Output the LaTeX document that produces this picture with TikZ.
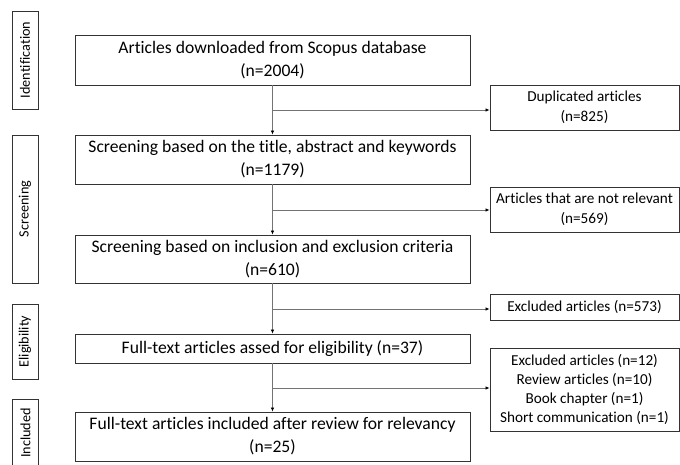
\documentclass[tikz,border=0pt]{standalone}
\usepackage{fontspec}
\setmainfont[Ligatures=NoCommon]{Carlito}
\usetikzlibrary{arrows.meta}
\begin{document}
\begin{tikzpicture}[x=1pt,y=-1pt,
  mainbox/.style={draw=black!80,line width=0.9pt,minimum width=395pt,inner sep=0pt,align=center,font=\fontsize{17.6}{23}\selectfont},
  sidebox/.style={draw=black!80,line width=0.9pt,minimum width=189pt,inner sep=0pt,align=center,font=\fontsize{15.2}{19.5}\selectfont},
  phase/.style={draw=black!80,line width=0.9pt,rotate=90,minimum height=26pt,inner sep=0pt,font=\fontsize{14.2}{17}\selectfont},
  arr/.style={draw=black!55,line width=0.7pt,-{Latex[length=4pt,width=3.5pt,color=black]}}]
\useasboundingbox (0,0) rectangle (680,465);
\begin{scope}
\clip (0,0) rectangle (680,465);
% phase labels
\node[phase,minimum width=98pt] (pid) at (25,60) {Identification};
\node[phase,minimum width=148pt] (psc) at (25,209) {Screening};
\node[phase,minimum width=75pt] (pel) at (25,341.5) {Eligibility};
\node[phase,minimum width=68pt] (pin) at (25.5,433) {Included};
% main boxes
\node[mainbox,minimum height=50pt] (b1) at (272.5,60) {Articles downloaded from Scopus database\\(n=2004)};
\node[mainbox,minimum height=49pt] (b2) at (272.5,159.5) {Screening based on the title, abstract and keywords\\(n=1179)};
\node[mainbox,minimum height=48pt] (b3) at (272.5,259) {Screening based on inclusion and exclusion criteria\\(n=610)};
\node[mainbox,minimum height=29pt] (b4) at (272.5,348.5) {Full-text articles assed for eligibility (n=37)};
\node[mainbox,minimum height=49pt] (b5) at (272.5,436.5) {Full-text articles included after review for relevancy\\(n=25)};
% side boxes
\node[sidebox,minimum height=45pt] (s1) at (584.5,107.5) {Duplicated articles\\(n=825)};
\node[sidebox,minimum height=45pt] (s2) at (584.5,209.5) {Articles that are not relevant\\(n=569)};
\node[sidebox,minimum height=26pt] (s3) at (584.5,307) {Excluded articles (n=573)};
\node[sidebox,minimum height=83pt,font=\fontsize{15.2}{18.7}\selectfont] (s4) at (584.5,389.5) {Excluded articles (n=12)\\Review articles (n=10)\\Book chapter (n=1)\\Short communication (n=1)};
% junctions
\coordinate (j1) at (272.5,110);
\coordinate (j2) at (272.5,210);
\coordinate (j3) at (272.5,309);
\coordinate (j4) at (272.5,388);
% vertical arrows
\draw[arr] (b1.south) -- (b2.north);
\draw[arr] (b2.south) -- (b3.north);
\draw[arr] (b3.south) -- (b4.north);
\draw[arr] (b4.south) -- (b5.north);
% branches
\draw[arr] (j1) -- (j1 -| s1.west);
\draw[arr] (j2) -- (j2 -| s2.west);
\draw[arr] (j3) -- (j3 -| s3.west);
\draw[arr] (j4) -- (j4 -| s4.west);
\end{scope}
\end{tikzpicture}
\end{document}
